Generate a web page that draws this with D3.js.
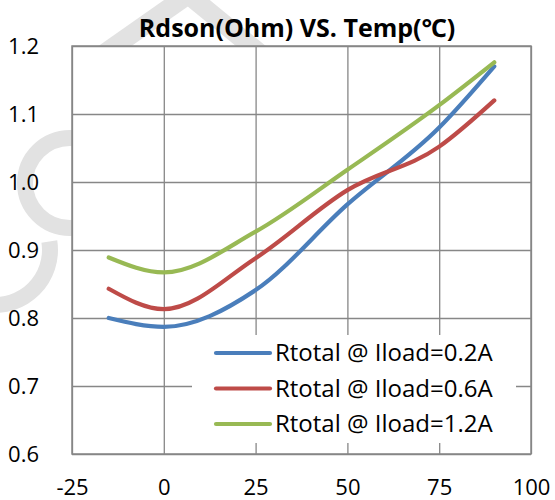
<!DOCTYPE html>
<html>
<head>
<meta charset="utf-8">
<script src="https://cdn.jsdelivr.net/npm/d3@7"></script>
<style>
  html, body { margin: 0; padding: 0; background: #fff; }
  svg { display: block; font-family: "Open Sans", "Noto Sans", sans-serif; }
</style>
</head>
<body>
<svg id="chart" width="555" height="500"></svg>
<script>
// Temperature points (°C) and on-resistance (Ohm) per load current
const temps = [-15, 0, 25, 50, 75, 90];
const rLoad02 = [0.800, 0.787, 0.841, 0.967, 1.080, 1.170];
const rLoad06 = [0.843, 0.813, 0.888, 0.988, 1.052, 1.120];
const rLoad12 = [0.889, 0.867, 0.927, 1.018, 1.113, 1.176];

const seriesNames = ["Rtotal @ Iload=0.2A", "Rtotal @ Iload=0.6A", "Rtotal @ Iload=1.2A"];
const seriesColors = ["#4a7ebb", "#be4b48", "#98b954"];

const xTicks = [-25, 0, 25, 50, 75, 100];
const xTickLabels = ["-25", "0", "25", "50", "75", "100"];
const yTicks = [0.6, 0.7, 0.8, 0.9, 1.0, 1.1, 1.2];
const yTickLabels = ["0.6", "0.7", "0.8", "0.9", "1.0", "1.1", "1.2"];

const titleText = "Rdson(Ohm) VS. Temp(℃)";

const FONT = "'Open Sans', 'Noto Sans', sans-serif";
const svg = d3.select("#chart");
const W = 555, H = 500;
const plot = { left: 72, right: 531, top: 46, bottom: 454 };

svg.append("rect").attr("width", W).attr("height", H).attr("fill", "#fff");

// faint background watermark
const wmColor = "#e2e2e2";
const wm = svg.append("g").attr("fill", "none").attr("stroke", wmColor).attr("stroke-width", 19);
wm.append("circle").attr("cx", 70).attr("cy", 183).attr("r", 45).attr("stroke-width", 16);
wm.append("path").attr("d", d3.arc()({ innerRadius: 47, outerRadius: 63, startAngle: Math.PI * 0.45, endAngle: Math.PI * 1.05 }))
  .attr("transform", "translate(-5,250)").attr("fill", wmColor).attr("stroke", "none");
wm.append("line").attr("x1", 192).attr("y1", -8).attr("x2", 95).attr("y2", 60);
wm.append("line").attr("x1", 185).attr("y1", -8).attr("x2", 268).attr("y2", 60);

const x = d3.scaleLinear().domain([-25, 100]).range([plot.left, plot.right]);
const y = d3.scaleLinear().domain([0.6, 1.2]).range([plot.bottom, plot.top]);

// plot area
svg.append("rect")
  .attr("x", plot.left).attr("y", plot.top)
  .attr("width", plot.right - plot.left).attr("height", plot.bottom - plot.top)
  .attr("fill", "#fff");

const gridColor = "#878787";

// y axis with gridlines
const yAxis = svg.append("g")
  .attr("transform", `translate(${plot.left},0)`)
  .call(d3.axisLeft(y).tickValues(yTicks)
    .tickFormat((d, i) => yTickLabels[i])
    .tickSize(-(plot.right - plot.left)).tickPadding(33));
yAxis.select(".domain").remove();
yAxis.selectAll(".tick line").attr("stroke", gridColor).attr("stroke-width", 1.3);
yAxis.selectAll(".tick text").attr("font-size", 22).attr("fill", "#000")
  .attr("font-family", FONT);

// x axis with gridlines
const xAxis = svg.append("g")
  .attr("transform", `translate(0,${plot.bottom})`)
  .call(d3.axisBottom(x).tickValues(xTicks)
    .tickFormat((d, i) => xTickLabels[i])
    .tickSize(-(plot.bottom - plot.top)).tickPadding(25));
xAxis.select(".domain").remove();
xAxis.selectAll(".tick line").attr("stroke", gridColor).attr("stroke-width", 1.3);
xAxis.selectAll(".tick text").attr("font-size", 22).attr("fill", "#000")
  .attr("font-family", FONT);

// plot border
svg.append("rect")
  .attr("x", plot.left).attr("y", plot.top)
  .attr("width", plot.right - plot.left).attr("height", plot.bottom - plot.top)
  .attr("fill", "none").attr("stroke", gridColor).attr("stroke-width", 1.5);

// legend background
const legend = { x: 192, y: 335, w: 324, h: 108 };
svg.append("rect")
  .attr("x", legend.x).attr("y", legend.y)
  .attr("width", legend.w).attr("height", legend.h)
  .attr("fill", "#fff");

// series
const series = [rLoad02, rLoad06, rLoad12];
const line = d3.line()
  .x((d, i) => x(temps[i]))
  .y(d => y(d))
  .curve(d3.curveMonotoneX);

svg.append("g").selectAll("path")
  .data(series)
  .join("path")
  .attr("d", d => line(d))
  .attr("fill", "none")
  .attr("stroke", (d, i) => seriesColors[i])
  .attr("stroke-width", 4.2)
  .attr("stroke-linecap", "round")
  .attr("stroke-linejoin", "round");

// legend entries
const rowY = [353, 388.5, 424];
const leg = svg.append("g").selectAll("g")
  .data(seriesNames)
  .join("g")
  .attr("transform", (d, i) => `translate(0,${rowY[i]})`);
leg.append("line")
  .attr("x1", 216).attr("x2", 270)
  .attr("stroke", (d, i) => seriesColors[i])
  .attr("stroke-width", 4.2)
  .attr("stroke-linecap", "round");
leg.append("text")
  .attr("x", 275).attr("y", 8)
  .attr("font-size", 24)
  .attr("font-family", FONT)
  .attr("fill", "#000")
  .text(d => d);

// title
svg.append("text")
  .attr("x", 297).attr("y", 37)
  .attr("text-anchor", "middle")
  .attr("font-size", 25)
  .attr("font-weight", "bold")
  .attr("font-family", FONT)
  .attr("fill", "#000")
  .text(titleText);
</script>
</body>
</html>
